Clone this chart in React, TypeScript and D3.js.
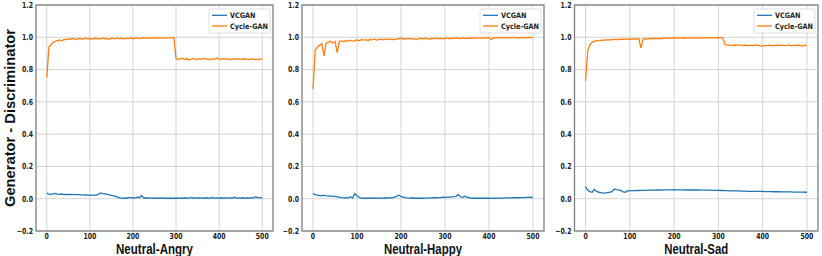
import React from "react";
import * as d3 from "d3";

// epochs sampled every 5 (0..500)
const EPOCH_STEP = 5;
const seriesNames = ["VCGAN", "Cycle-GAN"];
const panelTitles = ["Neutral-Angry", "Neutral-Happy", "Neutral-Sad"];
const yTicks = [-0.2, 0, 0.2, 0.4, 0.6, 0.8, 1.0, 1.2];
const xTicks = [0, 100, 200, 300, 400, 500];

const angryCycle = [
  0.75, 0.94, 0.955, 0.968, 0.975, 0.98, 0.984, 0.978, 0.987, 0.985,
  0.99, 0.988, 0.993, 0.99, 0.986, 0.994, 0.991, 0.989, 0.995, 0.99,
  0.992, 0.987, 0.994, 0.991, 0.993, 0.989, 0.996, 0.99, 0.992, 0.988,
  0.995, 0.993, 0.99, 0.996, 0.991, 0.994, 0.989, 0.995, 0.992, 0.997,
  0.99, 0.994, 0.996, 0.992, 0.995, 0.998, 0.993, 0.996, 0.994, 0.998,
  0.995, 0.997, 0.993, 0.998, 0.996, 0.995, 0.998, 0.996, 0.997, 0.999,
  0.868, 0.862, 0.866, 0.871, 0.863, 0.867, 0.86, 0.865, 0.869, 0.864,
  0.862, 0.867, 0.865, 0.87, 0.863, 0.866, 0.861, 0.868, 0.864, 0.872,
  0.866, 0.862, 0.869, 0.864, 0.867, 0.861, 0.866, 0.863, 0.868, 0.865,
  0.862, 0.867, 0.864, 0.866, 0.861, 0.868, 0.863, 0.865, 0.86, 0.866,
  0.864,
];
const angryVC = [
  0.035, 0.028, 0.027, 0.03, 0.033, 0.028, 0.027, 0.029, 0.026, 0.027,
  0.026, 0.027, 0.025, 0.026, 0.025, 0.025, 0.024, 0.024, 0.023, 0.022,
  0.022, 0.021, 0.022, 0.023, 0.028, 0.036, 0.032, 0.03, 0.027, 0.024,
  0.02, 0.017, 0.014, 0.01, 0.005, 0.003, 0.004, 0.003, 0.008, 0.005,
  0.007, 0.004, 0.01, 0.006, 0.02, 0.004, 0.006, 0.003, 0.004, 0.005,
  0.003, 0.004, 0.003, 0.005, 0.003, 0.004, 0.003, 0.003, 0.004, 0.003,
  0.004, 0.003, 0.004, 0.003, 0.006, 0.003, 0.004, 0.008, 0.003, 0.005,
  0.003, 0.007, 0.004, 0.003, 0.006, 0.004, 0.003, 0.008, 0.004, 0.005,
  0.004, 0.006, 0.003, 0.005, 0.004, 0.007, 0.003, 0.009, 0.004, 0.005,
  0.003, 0.006, 0.004, 0.005, 0.003, 0.008, 0.004, 0.012, 0.005, 0.008,
  0.004,
];
const happyCycle = [
  0.68, 0.92, 0.94, 0.95, 0.96, 0.885, 0.965, 0.97, 0.975, 0.965,
  0.975, 0.905, 0.975, 0.978, 0.972, 0.98, 0.976, 0.982, 0.975, 0.98,
  0.984, 0.978, 0.986, 0.982, 0.985, 0.98, 0.987, 0.984, 0.988, 0.983,
  0.986, 0.989, 0.984, 0.988, 0.986, 0.99, 0.985, 0.989, 0.987, 0.991,
  0.995, 0.988, 0.992, 0.99, 0.993, 0.989, 0.992, 0.986, 0.991, 0.993,
  0.99, 0.994, 0.991, 0.988, 0.993, 0.99, 0.995, 0.992, 0.994, 0.99,
  0.993, 0.996, 0.991, 0.995, 0.993, 0.996, 0.994, 0.992, 0.997, 0.993,
  0.995, 0.993, 0.997, 0.994, 0.996, 0.995, 0.998, 0.993, 0.997, 0.996,
  0.998, 0.985, 0.997, 0.995, 0.998, 0.996, 0.999, 0.997, 0.996, 0.999,
  0.997, 0.999, 0.996, 0.998, 0.997, 0.999, 0.998, 0.997, 0.999, 0.998,
  0.999,
];
const happyVC = [
  0.032, 0.025, 0.022, 0.02, 0.018, 0.022, 0.018, 0.016, 0.017, 0.015,
  0.014, 0.012, 0.01, 0.007, 0.005, 0.006, 0.004, 0.012, 0.004, 0.032,
  0.018, 0.008, 0.004, 0.003, 0.004, 0.003, 0.005, 0.003, 0.004, 0.003,
  0.004, 0.005, 0.003, 0.006, 0.004, 0.007, 0.005, 0.01, 0.015, 0.022,
  0.015, 0.01, 0.007, 0.005, 0.004, 0.006, 0.003, 0.004, 0.003, 0.003,
  0.003, 0.004, 0.004, 0.005, 0.005, 0.006, 0.006, 0.007, 0.007, 0.009,
  0.008, 0.01, 0.01, 0.012, 0.013, 0.015, 0.025, 0.012, 0.008, 0.015,
  0.01, 0.006, 0.004, 0.003, 0.003, 0.003, 0.003, 0.003, 0.003, 0.003,
  0.003, 0.002, 0.003, 0.003, 0.004, 0.004, 0.004, 0.005, 0.005, 0.005,
  0.005, 0.006, 0.006, 0.006, 0.007, 0.007, 0.007, 0.008, 0.008, 0.01,
  0.008,
];
const sadCycle = [
  0.73, 0.92, 0.955, 0.97, 0.975, 0.98, 0.978, 0.982, 0.98, 0.985,
  0.983, 0.986, 0.984, 0.988, 0.986, 0.985, 0.989, 0.987, 0.99, 0.986,
  0.99, 0.988, 0.991, 0.989, 0.992, 0.935, 0.99, 0.992, 0.989, 0.993,
  0.991, 0.994, 0.992, 0.993, 0.991, 0.995, 0.993, 0.996, 0.994, 0.995,
  0.997, 0.994, 0.996, 0.995, 0.997, 0.994, 0.996, 0.998, 0.995, 0.997,
  0.996, 0.998, 0.995, 0.997, 0.996, 0.998, 0.997, 0.996, 0.998, 0.997,
  0.998, 0.996, 0.998, 0.955, 0.951, 0.953, 0.949, 0.952, 0.95, 0.954,
  0.951, 0.949, 0.952, 0.95, 0.948, 0.951, 0.949, 0.953, 0.95, 0.947,
  0.944, 0.95, 0.948, 0.951, 0.947, 0.95, 0.948, 0.952, 0.949, 0.951,
  0.948, 0.95, 0.953, 0.947, 0.951, 0.949, 0.952, 0.95, 0.945, 0.951,
  0.949,
];
const sadVC = [
  0.075, 0.052, 0.044, 0.04, 0.058, 0.045, 0.04, 0.038, 0.035, 0.036,
  0.038, 0.04, 0.045, 0.06, 0.056, 0.055, 0.05, 0.042, 0.04, 0.05,
  0.049, 0.05, 0.05, 0.051, 0.051, 0.052, 0.052, 0.052, 0.053, 0.053,
  0.053, 0.053, 0.054, 0.054, 0.054, 0.055, 0.055, 0.055, 0.055, 0.055,
  0.056, 0.055, 0.055, 0.055, 0.055, 0.054, 0.054, 0.054, 0.054, 0.054,
  0.054, 0.054, 0.053, 0.053, 0.053, 0.053, 0.053, 0.052, 0.052, 0.052,
  0.052, 0.051, 0.051, 0.05, 0.05, 0.049, 0.049, 0.048, 0.048, 0.048,
  0.047, 0.047, 0.047, 0.046, 0.046, 0.046, 0.046, 0.045, 0.045, 0.045,
  0.045, 0.044, 0.044, 0.044, 0.044, 0.043, 0.043, 0.043, 0.043, 0.042,
  0.042, 0.042, 0.042, 0.042, 0.041, 0.041, 0.041, 0.041, 0.041, 0.04,
  0.04,
];

const COLORS = ["#1f77b4", "#ff7f0e"];
const TOP = 5;
const BOTTOM = 231;
const panels = [
  { left: 36, right: 273, title: panelTitles[0], vc: angryVC, cyc: angryCycle, titleW: 77 },
  { left: 302, right: 544, title: panelTitles[1], vc: happyVC, cyc: happyCycle, titleW: 78 },
  { left: 574.5, right: 818, title: panelTitles[2], vc: sadVC, cyc: sadCycle, titleW: 64 },
];

const tickFont = "'DejaVu Sans', sans-serif";
const fmt = (v: number) => (v < 0 ? "\u2212" + Math.abs(v).toFixed(1) : v.toFixed(1));

function Panel({ p }: { p: (typeof panels)[number] }) {
  const x = d3.scaleLinear().domain([-25, 525]).range([p.left, p.right]);
  const y = d3.scaleLinear().domain([-0.2, 1.2]).range([BOTTOM, TOP]);
  const line = d3
    .line<number>()
    .x((_, i) => x(i * EPOCH_STEP))
    .y((d) => y(d));
  const lx = p.right - 64;
  const ly = TOP + 4;
  return (
    <g>
      {xTicks.map((t) => (
        <line key={"gx" + t} x1={x(t)} x2={x(t)} y1={TOP} y2={BOTTOM} stroke="#cfcfcf" strokeWidth={0.9} />
      ))}
      {yTicks.map((t) => (
        <line key={"gy" + t} x1={p.left} x2={p.right} y1={y(t)} y2={y(t)} stroke="#cfcfcf" strokeWidth={0.9} />
      ))}
      <path d={line(p.vc) || ""} fill="none" stroke={COLORS[0]} strokeWidth={1.3} />
      <path d={line(p.cyc) || ""} fill="none" stroke={COLORS[1]} strokeWidth={1.3} />
      <rect x={p.left} y={TOP} width={p.right - p.left} height={BOTTOM - TOP} fill="none" stroke="#808080" strokeWidth={1.3} />
      {yTicks.map((t) => (
        <text
          key={"ty" + t}
          transform={`translate(${p.left - 3},${y(t)}) scale(0.75,1)`}
          textAnchor="end"
          dominantBaseline="central"
          fontFamily={tickFont}
          fontWeight="bold"
          fontSize={8.3}
          fill="#222"
        >
          {fmt(t)}
        </text>
      ))}
      {xTicks.map((t) => (
        <text
          key={"tx" + t}
          transform={`translate(${x(t)},${BOTTOM + 7.8}) scale(0.75,1)`}
          textAnchor="middle"
          fontFamily={tickFont}
          fontWeight="bold"
          fontSize={8.3}
          fill="#222"
        >
          {t}
        </text>
      ))}
      <text
        x={(p.left + p.right) / 2}
        y={254}
        textAnchor="middle"
        fontFamily="'Liberation Sans', Arial, sans-serif"
        fontWeight="bold"
        fontSize={15}
        textLength={p.titleW}
        lengthAdjust="spacingAndGlyphs"
        fill="#111"
      >
        {p.title}
      </text>
      <rect x={lx} y={ly} width={61} height={24} rx={2} fill="white" fillOpacity={0.85} stroke="#d8d8d8" strokeWidth={0.8} />
      {seriesNames.map((s, i) => (
        <g key={s}>
          <line x1={lx + 3} x2={lx + 18} y1={ly + 6.3 + i * 10.7} y2={ly + 6.3 + i * 10.7} stroke={COLORS[i]} strokeWidth={1.3} />
          <text
            x={lx + 21}
            y={ly + 6.3 + i * 10.7}
            dominantBaseline="central"
            fontFamily={tickFont}
            fontWeight="bold"
            fontSize={7.5}
            textLength={i === 0 ? 25.5 : 38}
            lengthAdjust="spacingAndGlyphs"
            fill="#222"
          >
            {s}
          </text>
        </g>
      ))}
    </g>
  );
}

export default function App() {
  return (
    <svg width={822} height={256} style={{ position: "absolute", left: 0, top: 0, background: "white" }}>
      <rect x={0} y={0} width={822} height={256} fill="white" />
      {panels.map((p) => (
        <Panel key={p.title} p={p} />
      ))}
      <text
        transform="translate(10,118) rotate(-90)"
        textAnchor="middle"
        dominantBaseline="central"
        fontFamily="'Liberation Sans', Arial, sans-serif"
        fontWeight="bold"
        fontSize={14.5}
        textLength={178}
        lengthAdjust="spacingAndGlyphs"
        fill="#111"
      >
        Generator - Discriminator
      </text>
    </svg>
  );
}
